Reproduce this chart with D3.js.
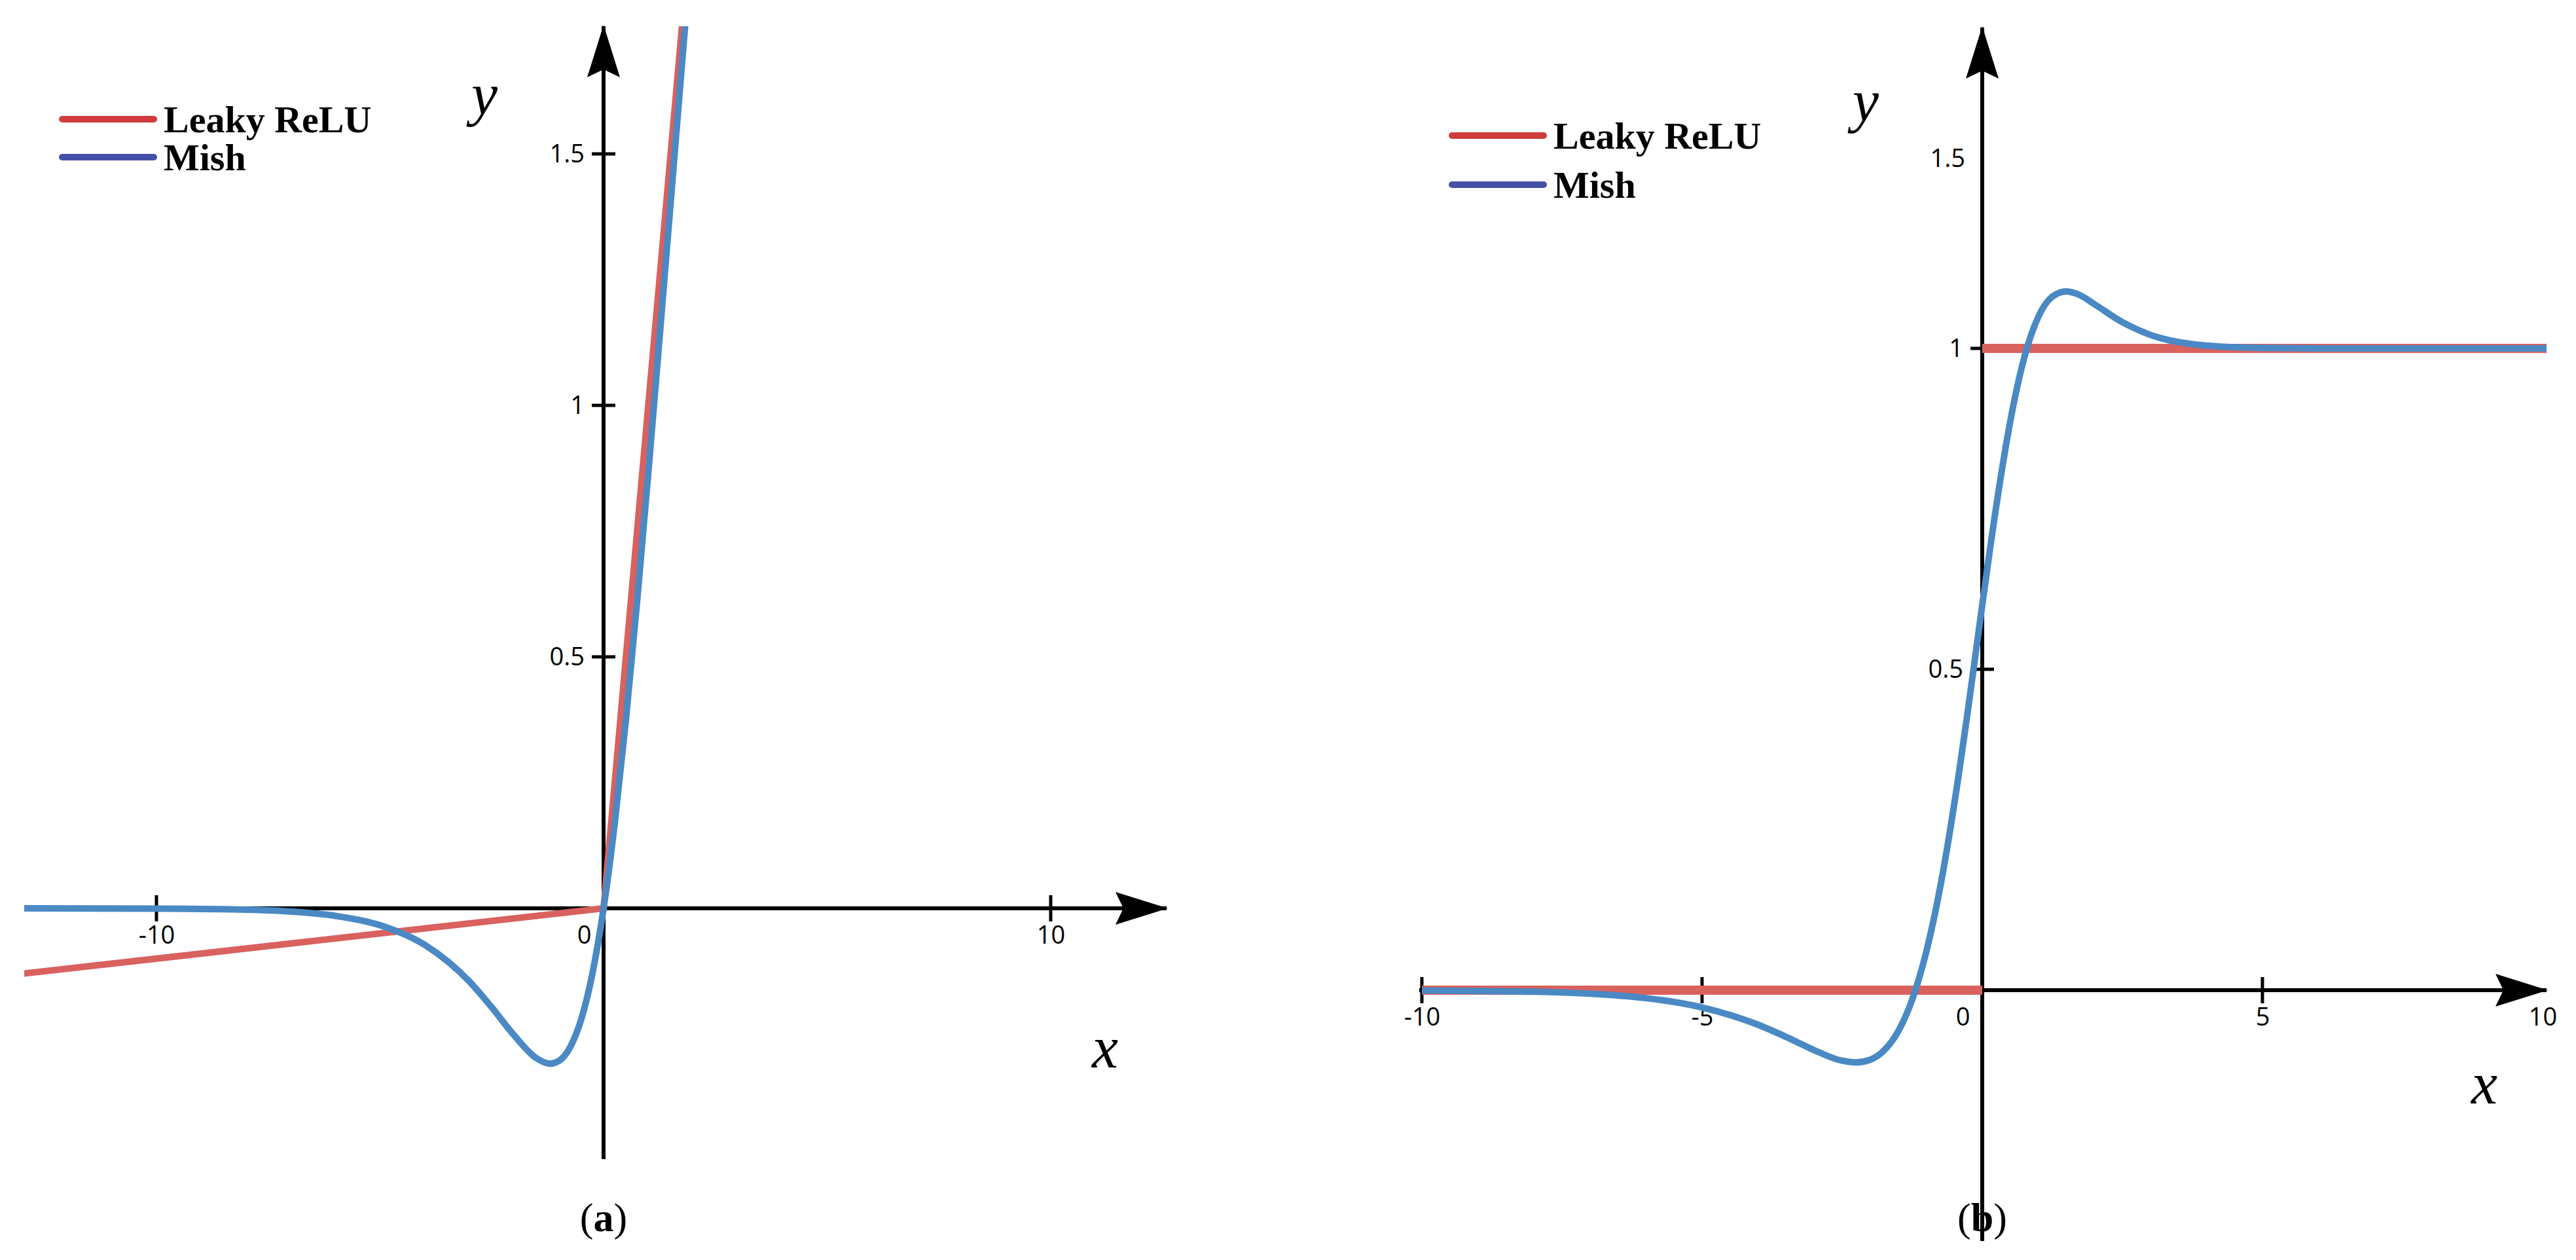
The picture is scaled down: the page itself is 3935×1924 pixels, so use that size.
<!DOCTYPE html>
<html><head><meta charset="utf-8">
<script src="https://cdn.jsdelivr.net/npm/d3@7"></script>
<style>body{margin:0;background:#fff}svg{display:block}</style>
</head><body>
<script>
// Panel (a): Leaky ReLU and Mish
const xA = [-13,-10,-8,-7,-6,-5,-4,-3,-2.5,-2,-1.5,-1.2,-1,-0.75,-0.5,-0.25,0,0.25,0.5,0.75,1,1.25,1.5,1.75,2];
const mishA = [0,-0.0005,-0.0027,-0.0064,-0.0149,-0.0335,-0.0727,-0.1456,-0.197,-0.2525,-0.298,-0.3089,-0.3034,-0.2764,-0.2208,-0.1299,0,0.1695,0.3752,0.610,0.8651,1.132,1.403,1.675,1.944];
const leakyXA = [-13,0,2];
const leakyA = [-0.13,0,2];
// Panel (b): derivatives
const xB = [-10,-8,-6,-5,-4,-3.5,-3,-2.5,-2.25,-2,-1.75,-1.5,-1.25,-1,-0.75,-0.5,-0.25,0,0.25,0.5,0.75,1,1.25,1.5,1.75,2,2.5,3,4,5,6,8,10.8];
const mishB = [-0.0004,-0.0024,-0.0124,-0.0268,-0.0538,-0.0728,-0.0934,-0.1099,-0.1124,-0.1084,-0.0937,-0.0641,-0.0146,0.0593,0.1607,0.2897,0.4398,0.6,0.7541,0.8864,0.9857,1.049,1.0805,1.0887,1.0826,1.069,1.0409,1.0211,1.0044,1.0008,1,1,1];
const leakyXB = [[-10,0],[0,10.8]];
const leakyB = [[0,0],[1,1]];
const ticksAx = [-10,0,10], ticksAy = [0.5,1,1.5];
const ticksBx = [-10,-5,0,5,10], ticksBy = [0.5,1];
const legendNames = ["Leaky ReLU","Mish"];
const legendColors = ["#d03c3c","#4450a8"];
const RED = "#d9615e", BLUE = "#4a89c4";

const svg = d3.select("body").append("svg").attr("width",3935).attr("height",1924);
const defs = svg.append("defs");
function arrow(id){
  defs.append("marker").attr("id",id).attr("viewBox","0 0 10 10").attr("refX",9).attr("refY",5)
   .attr("markerWidth",14).attr("markerHeight",9).attr("markerUnits","userSpaceOnUse")
   .attr("orient","auto").attr("viewBox","0 0 14 9").attr("refX",13).attr("refY",4.5)
   .append("path").attr("d","M0,0L14,4.5L0,9Z").attr("fill","#000");
}
defs.append("marker").attr("id","arr").attr("markerUnits","userSpaceOnUse")
  .attr("markerWidth",80).attr("markerHeight",50).attr("viewBox","0 0 80 50")
  .attr("refX",78).attr("refY",25).attr("orient","auto")
  .append("path").attr("d","M0,0L80,25L0,50L12,25Z").attr("fill","#000");

function panel(o){
  const g = svg.append("g");
  const x = d3.scaleLinear().domain(o.xd).range(o.xr);
  const y = d3.scaleLinear().domain(o.yd).range(o.yr);
  const cid = "clip"+o.id;
  defs.append("clipPath").attr("id",cid).append("rect")
    .attr("x",o.xr[0]).attr("y",o.clipTop).attr("width",o.xr[1]-o.xr[0]).attr("height",1900-o.clipTop);
  // axes
  g.append("line").attr("x1",o.xr[0]).attr("x2",o.xArrowEnd).attr("y1",y(0)).attr("y2",y(0))
    .attr("stroke","#000").attr("stroke-width",6).attr("marker-end","url(#arr)");
  g.append("line").attr("x1",x(0)).attr("x2",x(0)).attr("y1",o.yBottom).attr("y2",o.yArrowEnd)
    .attr("stroke","#000").attr("stroke-width",6).attr("marker-end","url(#arr)");
  // x ticks
  const xt = g.append("g").attr("transform",`translate(0,${y(0)})`)
    .call(d3.axisBottom(x).tickValues(o.tx).tickSize(0).tickFormat(d=>d));
  xt.select(".domain").remove();
  xt.selectAll("text").attr("font-family","Open Sans").attr("font-size",38).attr("fill","#000")
    .attr("dy","1.35em").attr("dx",d=>d===0?-30:0);
  o.tx.filter(d=>d!==0 && !o.noTickX.includes(d)).forEach(d=>{
    g.append("line").attr("x1",x(d)).attr("x2",x(d)).attr("y1",y(0)-20).attr("y2",y(0)+20).attr("stroke","#000").attr("stroke-width",5);
  });
  const yt = g.append("g").attr("transform",`translate(${x(0)},0)`)
    .call(d3.axisLeft(y).tickValues(o.ty).tickSize(0).tickFormat(d=>d));
  yt.select(".domain").remove();
  yt.selectAll("text").attr("font-family","Open Sans").attr("font-size",38).attr("fill","#000").attr("dx",-26);
  o.ty.filter(d=>!o.noTickY.includes(d)).forEach(d=>{
    g.append("line").attr("x1",x(0)-18).attr("x2",x(0)+18).attr("y1",y(d)).attr("y2",y(d)).attr("stroke","#000").attr("stroke-width",5);
  });
  // curves
  const cg = g.append("g").attr("clip-path",`url(#${cid})`);
  const line = d3.line().x(d=>x(d[0])).y(d=>y(d[1]));
  o.red.forEach(r=>cg.append("path").attr("d",line(r)).attr("fill","none").attr("stroke",RED).attr("stroke-width",o.redW));
  cg.append("path").attr("d",line.curve(d3.curveMonotoneX)(o.blue)).attr("fill","none").attr("stroke",BLUE).attr("stroke-width",10);
  // labels
  g.append("text").attr("x",o.yl[0]).attr("y",o.yl[1]).text("y").attr("font-family","Liberation Serif").attr("font-style","italic").attr("font-size",90);
  g.append("text").attr("x",o.xl[0]).attr("y",o.xl[1]).text("x").attr("font-family","Liberation Serif").attr("font-style","italic").attr("font-size",90);
  // legend
  legendNames.forEach((n,i)=>{
    const ly = o.leg[1]+i*o.legStep;
    g.append("line").attr("x1",o.leg[0]).attr("x2",o.leg[0]+140).attr("y1",ly).attr("y2",ly).attr("stroke",legendColors[i]).attr("stroke-width",10).attr("stroke-linecap","round");
    g.append("text").attr("x",o.leg[0]+155).attr("y",ly+20).text(n).attr("font-family","Liberation Serif").attr("font-weight","bold").attr("font-size",58);
  });
  const cap = g.append("text").attr("x",x(0)).attr("y",1880).attr("text-anchor","middle").attr("font-family","Liberation Serif").attr("font-size",62);
  cap.append("tspan").text("(");
  cap.append("tspan").attr("font-weight","bold").text(o.id);
  cap.append("tspan").text(")");
}

panel({id:"a", xd:[0,10], xr:[922,1605], yd:[0,1.5], yr:[1387,235], xr0:37,
  xArrowEnd:1782, yArrowEnd:40, yBottom:1770, clipTop:40,
  tx:ticksAx, ty:ticksAy, noTickX:[], noTickY:[],
  red:[leakyXA.map((d,i)=>[d,leakyA[i]])], redW:10,
  blue:xA.map((d,i)=>[d,mishA[i]]),
  yl:[720,175], xl:[1668,1630], leg:[95,182], legStep:58});
// fix left extent for panel a
svg.selectAll("clipPath#clipa rect").attr("x",37).attr("width",1745);
svg.select("g").select("line").attr("x1",37);

panel({id:"b", xd:[0,5], xr:[3028,3456], yd:[0,1], yr:[1512,532],
  xArrowEnd:3890, yArrowEnd:42, yBottom:1895, clipTop:40,
  tx:ticksBx, ty:ticksBy, noTickX:[10], noTickY:[],
  red:leakyXB.map((xs,k)=>xs.map((d,i)=>[d,leakyB[k][i]])), redW:14,
  blue:xB.map((d,i)=>[d,mishB[i]]),
  yl:[2830,185], xl:[3775,1685], leg:[2218,207], legStep:75});
// panel b: x axis starts at -10.05, y label 1.5 near arrow
const gb = svg.selectAll("svg > g").filter((d,i)=>i===1);
gb.select("line").attr("x1",2168);
svg.select("#clipb rect").attr("x",2168).attr("width",1722);
gb.append("text").attr("x",3002).attr("y",255).attr("text-anchor","end").attr("font-family","Open Sans").attr("font-size",38).text("1.5");
</script>
</body></html>
